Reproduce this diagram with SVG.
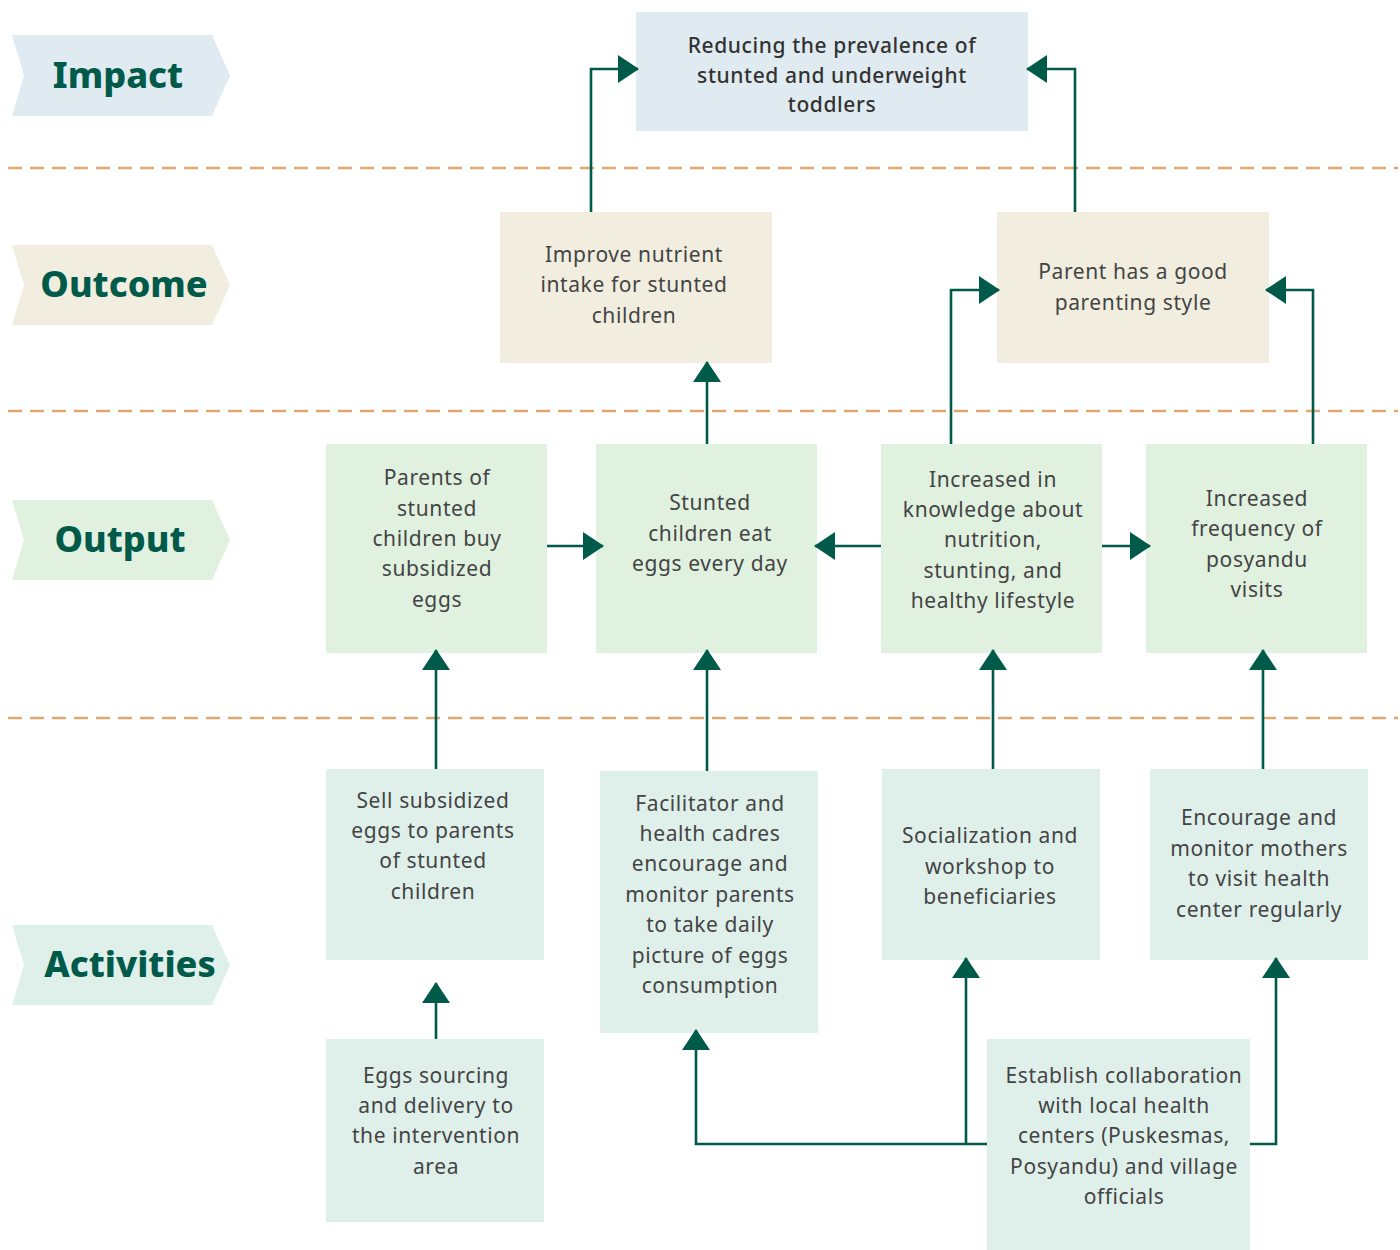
<svg xmlns="http://www.w3.org/2000/svg" width="1400" height="1250" viewBox="0 0 1400 1250">
<defs>
<style>
.lbl{font-family:"Noto Sans","DejaVu Sans",sans-serif;font-weight:800;font-size:36px;fill:#005A4A;text-anchor:middle}
.t{font-family:"Noto Sans","DejaVu Sans",sans-serif;font-size:21px;letter-spacing:0.6px;fill:#444;text-anchor:middle}
.tb{font-family:"Noto Sans","DejaVu Sans",sans-serif;font-size:21px;letter-spacing:0.6px;font-weight:500;fill:#333;text-anchor:middle}
.sep{stroke:#E0A870;stroke-width:2.5;stroke-dasharray:14 8;fill:none}
.c{stroke:#005A4A;stroke-width:2.6;fill:none;marker-end:url(#ah)}
.imp{fill:#E0EBF1}.out{fill:#F1EEE0}.op{fill:#E0F1E0}.act{fill:#DFF0EB}
</style>
<marker id="ah" markerUnits="userSpaceOnUse" markerWidth="22" markerHeight="28" viewBox="0 0 22 28" refX="20" refY="14" orient="auto">
<path d="M0,0 L21,14 L0,28 Z" fill="#005A4A"/>
</marker>
</defs>
<rect width="1400" height="1250" fill="#fff"/>

<g id="separators">
<line class="sep" x1="8" y1="168" x2="1398" y2="168"/>
<line class="sep" x1="8" y1="411" x2="1398" y2="411"/>
<line class="sep" x1="8" y1="718" x2="1398" y2="718"/>
</g>

<g id="label-impact">
<polygon class="imp" points="12,35 212,35 230,75.5 212,116 12,116 24,75.5"/>
<text class="lbl" x="118" y="88">Impact</text>
</g>
<g id="label-outcome">
<polygon class="out" points="12,245 212,245 230,285 212,325 12,325 24,285"/>
<text class="lbl" x="124" y="297">Outcome</text>
</g>
<g id="label-output">
<polygon class="op" points="12,500 212,500 230,540 212,580 12,580 24,540"/>
<text class="lbl" x="120" y="552">Output</text>
</g>
<g id="label-activities">
<polygon class="act" points="12,925 212,925 230,965 212,1005 12,1005 24,965"/>
<text class="lbl" x="130" y="977">Activities</text>
</g>

<g id="impact-box">
<rect class="imp" x="636" y="12" width="392" height="119"/>
<text class="tb" x="832"><tspan x="832" y="53">Reducing the prevalence of</tspan><tspan x="832" y="83">stunted and underweight</tspan><tspan x="832" y="112">toddlers</tspan></text>
</g>

<g id="outcome-nutrient">
<rect class="out" x="500" y="212" width="272" height="151"/>
<text class="t"><tspan x="634" y="262">Improve nutrient</tspan><tspan x="634" y="292">intake for stunted</tspan><tspan x="634" y="323">children</tspan></text>
</g>
<g id="outcome-parenting">
<rect class="out" x="997" y="212" width="272" height="151"/>
<text class="t"><tspan x="1133" y="279">Parent has a good</tspan><tspan x="1133" y="310">parenting style</tspan></text>
</g>

<g id="output-buy">
<rect class="op" x="326" y="444" width="221" height="209"/>
<text class="t"><tspan x="437" y="485">Parents of</tspan><tspan x="437" y="516">stunted</tspan><tspan x="437" y="546">children buy</tspan><tspan x="437" y="576">subsidized</tspan><tspan x="437" y="607">eggs</tspan></text>
</g>
<g id="output-eat">
<rect class="op" x="596" y="444" width="221" height="209"/>
<text class="t"><tspan x="710" y="510">Stunted</tspan><tspan x="710" y="541">children eat</tspan><tspan x="710" y="571">eggs every day</tspan></text>
</g>
<g id="output-knowledge">
<rect class="op" x="881" y="444" width="221" height="209"/>
<text class="t"><tspan x="993" y="487">Increased in</tspan><tspan x="993" y="517">knowledge about</tspan><tspan x="993" y="547">nutrition,</tspan><tspan x="993" y="578">stunting, and</tspan><tspan x="993" y="608">healthy lifestyle</tspan></text>
</g>
<g id="output-posyandu">
<rect class="op" x="1146" y="444" width="221" height="209"/>
<text class="t"><tspan x="1257" y="506">Increased</tspan><tspan x="1257" y="536">frequency of</tspan><tspan x="1257" y="567">posyandu</tspan><tspan x="1257" y="597">visits</tspan></text>
</g>

<g id="act-sell">
<rect class="act" x="326" y="769" width="218" height="191"/>
<text class="t"><tspan x="433" y="808">Sell subsidized</tspan><tspan x="433" y="838">eggs to parents</tspan><tspan x="433" y="868">of stunted</tspan><tspan x="433" y="899">children</tspan></text>
</g>
<g id="act-facilitator">
<rect class="act" x="600" y="771" width="218" height="262"/>
<text class="t"><tspan x="710" y="811">Facilitator and</tspan><tspan x="710" y="841">health cadres</tspan><tspan x="710" y="871">encourage and</tspan><tspan x="710" y="902">monitor parents</tspan><tspan x="710" y="932">to take daily</tspan><tspan x="710" y="963">picture of eggs</tspan><tspan x="710" y="993">consumption</tspan></text>
</g>
<g id="act-socialization">
<rect class="act" x="882" y="769" width="218" height="191"/>
<text class="t"><tspan x="990" y="843">Socialization and</tspan><tspan x="990" y="874">workshop to</tspan><tspan x="990" y="904">beneficiaries</tspan></text>
</g>
<g id="act-encourage">
<rect class="act" x="1150" y="769" width="218" height="191"/>
<text class="t"><tspan x="1259" y="825">Encourage and</tspan><tspan x="1259" y="856">monitor mothers</tspan><tspan x="1259" y="886">to visit health</tspan><tspan x="1259" y="917">center regularly</tspan></text>
</g>
<g id="act-sourcing">
<rect class="act" x="326" y="1039" width="218" height="183"/>
<text class="t"><tspan x="436" y="1083">Eggs sourcing</tspan><tspan x="436" y="1113">and delivery to</tspan><tspan x="436" y="1143">the intervention</tspan><tspan x="436" y="1174">area</tspan></text>
</g>
<g id="act-collaboration">
<rect class="act" x="987" y="1039" width="263" height="211"/>
<text class="t"><tspan x="1124" y="1083">Establish collaboration</tspan><tspan x="1124" y="1113">with local health</tspan><tspan x="1124" y="1143">centers (Puskesmas,</tspan><tspan x="1124" y="1174">Posyandu) and village</tspan><tspan x="1124" y="1204">officials</tspan></text>
</g>

<g id="connectors">
<polyline class="c" points="591,212 591,69 638,69"/>
<polyline class="c" points="1075,212 1075,69 1027,69"/>
<polyline class="c" points="951,444 951,290 999,290"/>
<polyline class="c" points="1313,444 1313,290 1266,290"/>
<polyline class="c" points="707,444 707,362"/>
<polyline class="c" points="547,546 603,546"/>
<polyline class="c" points="881,546 815,546"/>
<polyline class="c" points="1102,546 1150,546"/>
<polyline class="c" points="436,769 436,650"/>
<polyline class="c" points="707,771 707,650"/>
<polyline class="c" points="993,769 993,650"/>
<polyline class="c" points="1263,769 1263,650"/>
<polyline class="c" points="436,1039 436,983"/>
<polyline class="c" points="987,1144 696,1144 696,1030"/>
<polyline class="c" points="966,1144 966,958"/>
<polyline class="c" points="1250,1144 1276,1144 1276,958"/>
</g>
</svg>
